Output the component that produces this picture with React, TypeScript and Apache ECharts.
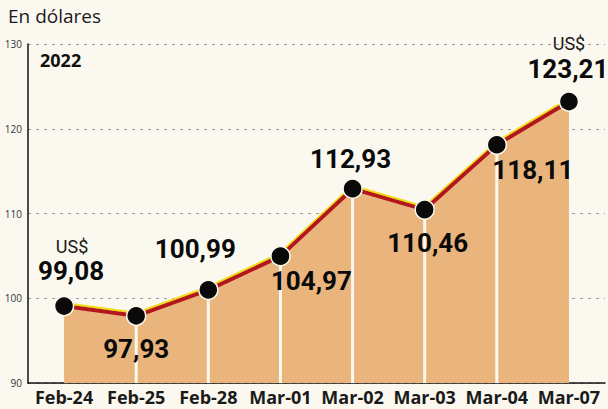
import React, { useEffect, useRef } from "react";
import * as echarts from "echarts";

const categories = ["Feb-24", "Feb-25", "Feb-28", "Mar-01", "Mar-02", "Mar-03", "Mar-04", "Mar-07"];
const values = [99.08, 97.93, 100.99, 104.97, 112.93, 110.46, 118.11, 123.21];
const yTicks = [90, 100, 110, 120, 130];
// label placement per point: [dx, dy]
const labelOffsets: [number, number][] = [
  [7, -35], [0, 33], [-13, -41], [31, 25], [-2, -30], [3, 33], [36, 25], [-1, -33],
];
const showUnit = [true, false, false, false, false, false, false, true];
const unitOffsets: [number, number][] = [
  [8, -60], [0, 0], [0, 0], [0, 0], [0, 0], [0, 0], [0, 0], [0, -58],
];

const fmt = (v: number) => v.toFixed(2).replace(".", ",");

export default function App() {
  const ref = useRef<HTMLDivElement>(null);
  useEffect(() => {
    if (!ref.current) return;
    const chart = echarts.init(ref.current, null, { renderer: "svg" });
    const font = "'Open Sans', 'Noto Sans', sans-serif";
    const valFont = "Roboto, 'Open Sans', sans-serif";
    chart.setOption({
      animation: false,
      backgroundColor: "#fbf9ef",
      grid: { left: 28, right: 3, top: 44, bottom: 26, containLabel: false },
      xAxis: {
        type: "category",
        data: categories,
        boundaryGap: true,
        axisLine: { lineStyle: { color: "#111", width: 1.5 } },
        axisTick: { show: false },
        axisLabel: {
          interval: 0,
          color: "#1a1a1a",
          fontFamily: font,
          fontWeight: "bold",
          fontSize: 18,
          margin: 5,
        },
        splitLine: { show: false },
      },
      yAxis: {
        type: "value",
        min: yTicks[0],
        max: yTicks[yTicks.length - 1],
        interval: 10,
        axisLine: { show: true, lineStyle: { color: "#111", width: 1.5 } },
        axisTick: { show: false },
        axisLabel: { color: "#333", fontFamily: font, fontSize: 10, margin: 6 },
        splitLine: { show: true, lineStyle: { color: "#9a9a9a", type: [3, 5], width: 1 } },
      },
      graphic: [
        { type: "text", left: 8, top: 6, style: { text: "En dólares", fontFamily: font, fontSize: 19, fill: "#1a1a1a" } },
        { type: "text", left: 40, top: 51, style: { text: "2022", fontFamily: font, fontSize: 18, fontWeight: "bold", fill: "#111" } },
      ],
      series: [
        {
          type: "line",
          data: values,
          z: 1,
          symbol: "none",
          lineStyle: { width: 0, opacity: 0 },
          areaStyle: { color: "#e9b57c", opacity: 1, origin: "start" },
          silent: true,
        },
        {
          type: "bar",
          data: values.map((v, i) => (i === 0 || i === values.length - 1 ? "-" : v)),
          barWidth: 3,
          z: 2,
          itemStyle: { color: "#fbf9ef" },
          silent: true,
        },
        {
          type: "line",
          z: 4,
          data: values.map((v, i) => ({
            value: v,
            label: {
              show: showUnit[i],
              position: "inside",
              offset: unitOffsets[i],
              formatter: "US$",
            },
          })),
          symbol: "circle",
          symbolSize: 0,
          itemStyle: { color: "rgba(0,0,0,0)" },
          lineStyle: { width: 0, color: "rgba(0,0,0,0)" },
          label: { fontFamily: valFont, fontSize: 18, color: "#1a1a1a", lineHeight: 18 },
          silent: true,
        },
        {
          type: "line",
          z: 3,
          data: values.map((v, i) => ({
            value: v,
            label: {
              show: true,
              position: "inside",
              offset: labelOffsets[i],
              formatter: fmt(v),
            },
          })),
          symbol: "circle",
          symbolSize: 19,
          itemStyle: { color: "#0a0a0a", borderColor: "#fbf9ef", borderWidth: 1.5 },
          lineStyle: {
            color: "#b3121c",
            width: 4,
            shadowColor: "#f2dc1a",
            shadowBlur: 0,
            shadowOffsetY: -2,
          },
          label: {
            fontFamily: valFont,
            fontSize: 26,
            fontWeight: "bold",
            color: "#0a0a0a",
            lineHeight: 24,
          },
        },
      ],
    });
    return () => chart.dispose();
  }, []);
  return (
    <div
      ref={ref}
      style={{ position: "fixed", left: 0, top: 0, width: 608, height: 409 }}
    />
  );
}
